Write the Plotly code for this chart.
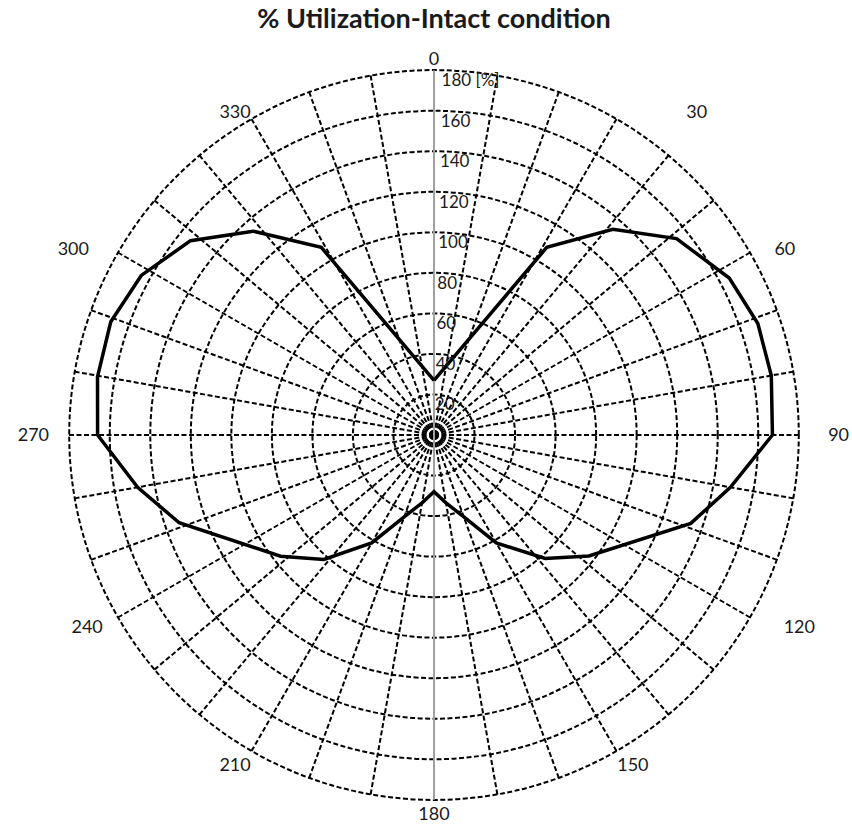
import plotly.graph_objects as go

# ---- data ----
theta_deg = [0, 31, 41, 51, 62, 71, 80, 90, 100, 109, 128, 138, 150, 160, 170, 180,
             190, 200, 210, 221.5, 231.7, 251, 260, 270, 279.8, 289.3, 298.6, 308.6, 318.4, 329, 360]
utilization = [27, 108, 134.5, 154, 165, 169, 169, 167, 148.5, 134, 97, 82, 61.5, 43, 34, 28,
               34, 43, 61.5, 82, 96.5, 133, 148.5, 166, 168.5, 169, 164.5, 153.7, 134.5, 108, 27]

radial_ticks = [20, 40, 60, 80, 100, 120, 140, 160, 180]
radial_labels = ["20", "40", "60", "80", "100", "120", "140", "160", "180 [%]"]
angle_ticks = list(range(0, 360, 10))
angle_labels = [str(a) if a % 30 == 0 else "" for a in angle_ticks]

title_text = "% Utilization-Intact condition"

# ---- layout / styling ----
W, H = 852, 827
cx, cy, R = 434, 435, 366
FONT = "Lato, Open Sans, sans-serif"
NB = "\u00a0"

# extra spacing (in non-breaking spaces) to mimic the reference label placement
lead_pad = {30: 15, 60: 5, 90: 6, 120: 7}
trail_pad = {240: 3, 270: 4, 300: 6}

tick_text = []
for a, lab in zip(angle_ticks, angle_labels):
    if lab:
        lab = NB * lead_pad.get(a, 0) + lab + NB * trail_pad.get(a, 0)
    tick_text.append(lab)

fig = go.Figure()

# grey vertical axis line through the centre (0° and 180°)
fig.add_trace(go.Scatterpolar(
    r=[radial_ticks[-1], 0, radial_ticks[-1]], theta=[0, 0, 180],
    mode="lines", line=dict(color="#a0a0a0", width=2),
    hoverinfo="skip", showlegend=False))

# data curve
fig.add_trace(go.Scatterpolar(
    r=utilization, theta=theta_deg, mode="lines",
    line=dict(color="black", width=3.5),
    showlegend=False))

# radial tick labels placed just below each ring, right of the axis line
fig.add_trace(go.Scatterpolar(
    r=[v - 1.5 for v in radial_ticks], theta=[1.2] * len(radial_ticks),
    mode="text", text=radial_labels, textposition="bottom right",
    textfont=dict(family=FONT, size=17, color="#1a1a1a"),
    hoverinfo="skip", showlegend=False))

fig.update_layout(
    width=W, height=H,
    margin=dict(l=0, r=0, t=0, b=0),
    paper_bgcolor="white", plot_bgcolor="white",
    title=dict(text="<b>" + title_text + "</b>", x=cx / W, xanchor="center",
               y=1 - 19 / H, yanchor="middle", yref="container",
               font=dict(family=FONT, size=27, color="#1a1a1a")),
    polar=dict(
        domain=dict(x=[(cx - R) / W, (cx + R) / W], y=[(H - cy - R) / H, (H - cy + R) / H]),
        bgcolor="white",
        radialaxis=dict(
            range=[0, 180.6], tickvals=radial_ticks, showticklabels=False,
            angle=90, showline=False, ticks="",
            showgrid=True, gridcolor="black", gridwidth=1.6, griddash="5px,2.5px"),
        angularaxis=dict(
            rotation=90, direction="clockwise",
            tickvals=angle_ticks, ticktext=tick_text,
            showline=False, ticks="",
            showgrid=True, gridcolor="black", gridwidth=1.6, griddash="5px,2.5px",
            tickfont=dict(family=FONT, size=18, color="#1a1a1a")),
    ),
)

fig.write_html("out.html")
